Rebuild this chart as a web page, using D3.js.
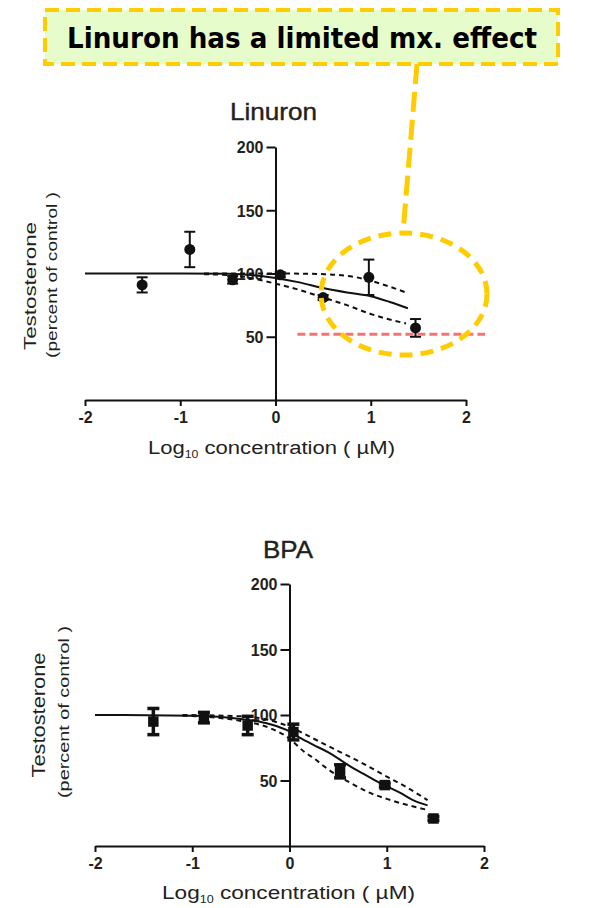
<!DOCTYPE html>
<html><head><meta charset="utf-8">
<script src="https://cdn.jsdelivr.net/npm/d3@7"></script>
<style>body{margin:0;background:#fff}svg{display:block}</style>
</head><body>
<svg id="c" width="596" height="908"></svg>
<script>
// ---- data ----
const xTicks = [-2, -1, 0, 1, 2];
const yTicks = [50, 100, 150, 200];

const linuronX   = [-1.4, -0.9, -0.45, 0.05, 0.5, 0.98, 1.47];
const linuronY   = [91, 119, 95, 99, 81, 97, 57];
const linuronErr = [6, 14, 3, 2, 2, 14, 7];
const linuronFitX = [-2, -1, -0.5, 0, 0.25, 0.5, 0.75, 1, 1.2, 1.39];
const linuronFitY = [100, 100, 99.8, 96.5, 93, 88.5, 85, 82, 77.5, 72.5];
const linuronUpX = [-0.75, 0, 0.5, 0.85, 1.1, 1.37];
const linuronUpY = [100, 100, 99.5, 97, 92, 85];
const linuronLoX = [-0.75, -0.4, 0, 0.25, 0.5, 0.75, 1.0, 1.37];
const linuronLoY = [99.5, 98, 92, 87, 81, 75, 68, 60.5];
const threshold = 52;
const thresholdX = [0.23, 2.2];

const bpaX   = [-1.4, -0.88, -0.43, 0.04, 0.52, 0.98, 1.48];
const bpaY   = [95, 98, 92, 87, 57, 46.5, 21];
const bpaErr = [10, 4, 7, 6, 5, 1.5, 1.5];
const bpaFitX = [-2, -1, -0.5, -0.2, 0, 0.11, 0.25, 0.4, 0.6, 0.75, 0.87, 1.0, 1.14, 1.27, 1.42];
const bpaFitY = [100, 99.5, 97, 93, 87.5, 82.5, 77, 71.5, 62, 55.5, 50.5, 45.5, 40.5, 35, 31];
const bpaUpX = [-1.1, -0.5, -0.2, 0, 0.22, 0.5, 0.73, 1.0, 1.2, 1.42];
const bpaUpY = [100, 99, 96, 91, 83, 72.5, 64, 53, 45, 35];
const bpaLoX = [-1.1, -0.5, -0.2, 0, 0.15, 0.25, 0.37, 0.63, 0.83, 1.04, 1.42];
const bpaLoY = [99.5, 95.5, 90, 82, 72, 67, 60, 48, 40.5, 35, 27.5];

const svg = d3.select("#c");
const txt = "#231f20";
const font = "'Liberation Sans', Arial, sans-serif";

function panel(o) {
  const x = d3.scaleLinear().domain([-2, 2]).range(o.xr);
  const y = d3.scaleLinear().domain([0, 200]).range(o.yr);
  const g = svg.append("g");
  const line = (xs, ys) => d3.line().curve(d3.curveMonotoneX)
      .x((d, i) => x(xs[i])).y((d, i) => y(ys[i]))(xs);

  // axes
  const ax = g.append("g").attr("transform", `translate(0,${y(0)})`)
    .call(d3.axisBottom(x).tickValues(xTicks).tickSize(6).tickSizeOuter(0).tickPadding(6)
      .tickFormat(d => String(d)));
  const ay = g.append("g").attr("transform", `translate(${x(0)},0)`)
    .call(d3.axisLeft(y).tickValues(yTicks).tickSize(9).tickSizeOuter(0).tickPadding(3)
      .tickFormat(d => String(d)));
  [ax, ay].forEach(a => {
    a.selectAll("path,line").attr("stroke", "#111").attr("stroke-width", 2);
    a.selectAll("text").attr("fill", txt).attr("font-family", font)
      .attr("font-weight", "bold");
  });
  ax.selectAll("text").attr("font-size", 16);
  ay.selectAll("text").attr("font-size", 16).attr("dy", "0.36em");

  // fit curves
  g.append("path").attr("d", line(o.fx, o.fy)).attr("fill", "none")
    .attr("stroke", "#111").attr("stroke-width", 2);
  [[o.ux, o.uy], [o.lx, o.ly]].forEach(([a, b]) => {
    g.append("path").attr("d", line(a, b)).attr("fill", "none")
      .attr("stroke", "#111").attr("stroke-width", 2).attr("stroke-dasharray", "5,4");
  });

  // error bars + markers
  const cw = o.cap;
  o.px.forEach((xv, i) => {
    const cx = x(xv), top = y(o.py[i] + o.pe[i]), bot = y(o.py[i] - o.pe[i]);
    g.append("line").attr("x1", cx).attr("x2", cx).attr("y1", top).attr("y2", bot)
      .attr("stroke", "#111").attr("stroke-width", o.ew);
    [top, bot].forEach(v => g.append("line").attr("x1", cx - cw).attr("x2", cx + cw)
      .attr("y1", v).attr("y2", v).attr("stroke", "#111").attr("stroke-width", o.ew));
    g.append("path").attr("transform", `translate(${cx},${y(o.py[i])})`)
      .attr("d", d3.symbol().type(o.sym).size(o.symSize)()).attr("fill", "#111");
  });

  // titles
  g.append("text").attr("x", o.title[1]).attr("y", o.title[2]).attr("font-family", font)
    .attr("font-size", 24).attr("fill", txt).attr("textLength", o.title[3])
    .attr("stroke", txt).attr("stroke-width", 0.4)
    .attr("lengthAdjust", "spacingAndGlyphs").text(o.title[0]);

  const xl = g.append("text").attr("x", o.xl[0]).attr("y", o.xl[1]).attr("font-family", font)
    .attr("font-size", 18).attr("fill", txt).attr("textLength", o.xl[2])
    .attr("lengthAdjust", "spacingAndGlyphs");
  xl.append("tspan").text("Log");
  xl.append("tspan").attr("font-size", 10).attr("dy", 4).text("10");
  xl.append("tspan").attr("dy", -4).text(o.xlRest);

  o.yl.forEach(([t, bx, cy, fs, len]) => {
    g.append("text").attr("transform", `translate(${bx},${cy}) rotate(-90)`)
      .attr("text-anchor", "middle").attr("font-family", font).attr("font-size", fs)
      .attr("fill", txt).attr("textLength", len).attr("lengthAdjust", "spacingAndGlyphs").text(t);
  });
  return {x, y, g};
}

const L = panel({
  xr: [85, 466], yr: [400, 147],
  px: linuronX, py: linuronY, pe: linuronErr,
  fx: linuronFitX, fy: linuronFitY, ux: linuronUpX, uy: linuronUpY, lx: linuronLoX, ly: linuronLoY,
  cap: 5.5, ew: 2, sym: d3.symbolCircle, symSize: 95,
  title: ["Linuron", 230, 120, 87],
  xl: [148, 454, 247], xlRest: " concentration ( µM)",
  yl: [["Testosterone", 36, 286, 16, 128], ["(percent of control )", 57, 275, 15, 166]]
});

const B = panel({
  xr: [95, 484], yr: [846, 584],
  px: bpaX, py: bpaY, pe: bpaErr,
  fx: bpaFitX, fy: bpaFitY, ux: bpaUpX, uy: bpaUpY, lx: bpaLoX, ly: bpaLoY,
  cap: 6, ew: 3.5, sym: d3.symbolSquare, symSize: 110,
  title: ["BPA", 263, 558, 50],
  xl: [162, 899, 253], xlRest: " concentration ( µM)",
  yl: [["Testosterone", 45, 715, 18, 125], ["(percent of control )", 69, 712, 15, 172]]
});

// threshold (red dashed)
L.g.append("line").attr("x1", L.x(thresholdX[0])).attr("x2", L.x(thresholdX[1]))
  .attr("y1", L.y(threshold)).attr("y2", L.y(threshold))
  .attr("stroke", "#f47474").attr("stroke-width", 3).attr("stroke-dasharray", "8,4");

// annotation
const gold = "#ffcc00";
svg.append("line").attr("x1", 417).attr("y1", 64).attr("x2", 403).attr("y2", 233)
  .attr("stroke", gold).attr("stroke-width", 5).attr("stroke-dasharray", "20,8");
svg.append("ellipse").attr("cx", 404).attr("cy", 294).attr("rx", 83).attr("ry", 61)
  .attr("fill", "none").attr("stroke", gold).attr("stroke-width", 5).attr("stroke-dasharray", "13,8");
svg.append("rect").attr("x", 45).attr("y", 10).attr("width", 513).attr("height", 54)
  .attr("fill", "#e6fccb").attr("stroke", gold).attr("stroke-width", 4).attr("stroke-dasharray", "14,7");
svg.append("text").attr("x", 67).attr("y", 48).attr("font-family", "'DejaVu Sans', Verdana, sans-serif")
  .attr("font-weight", "bold").attr("font-size", 28).attr("fill", "#000")
  .attr("textLength", 470).attr("lengthAdjust", "spacingAndGlyphs")
  .text("Linuron has a limited mx. effect");
</script>
</body></html>
